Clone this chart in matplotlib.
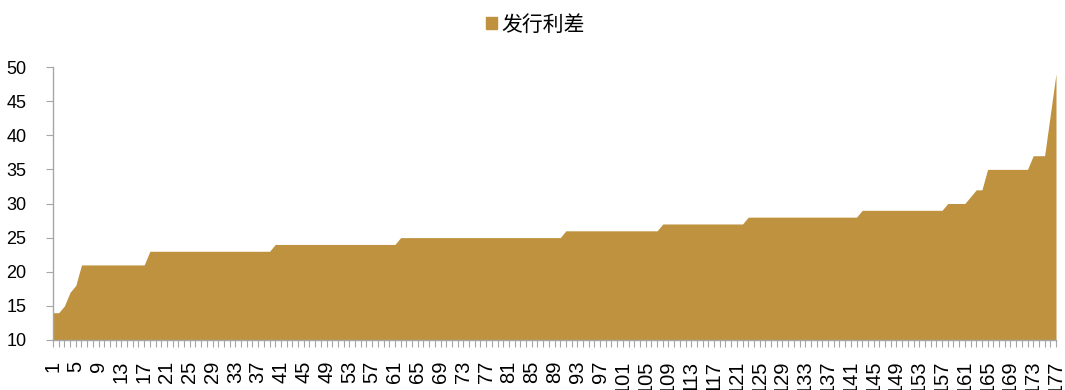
import numpy as np
import matplotlib.pyplot as plt
from matplotlib.patches import Patch

plt.rcParams['font.family'] = ['Liberation Sans', 'Noto Sans CJK SC', 'DejaVu Sans']

# issue spread by deal, sorted ascending
spread = [
    14, 14, 15, 17, 18,
    21, 21, 21, 21, 21, 21, 21, 21, 21, 21, 21, 21,
    23, 23, 23, 23, 23, 23, 23, 23, 23, 23, 23, 23, 23, 23, 23, 23, 23, 23, 23, 23, 23, 23,
    24, 24, 24, 24, 24, 24, 24, 24, 24, 24, 24, 24, 24, 24, 24, 24, 24, 24, 24, 24, 24, 24,
    25, 25, 25, 25, 25, 25, 25, 25, 25, 25, 25, 25, 25, 25, 25, 25, 25, 25, 25, 25, 25, 25,
    25, 25, 25, 25, 25, 25, 25,
    26, 26, 26, 26, 26, 26, 26, 26, 26, 26, 26, 26, 26, 26, 26, 26, 26,
    27, 27, 27, 27, 27, 27, 27, 27, 27, 27, 27, 27, 27, 27, 27,
    28, 28, 28, 28, 28, 28, 28, 28, 28, 28, 28, 28, 28, 28, 28, 28, 28, 28, 28, 28,
    29, 29, 29, 29, 29, 29, 29, 29, 29, 29, 29, 29, 29, 29, 29,
    30, 30, 30, 30, 31, 32, 32,
    35, 35, 35, 35, 35, 35, 35, 35,
    37, 37, 37, 43, 49,
]
idx = list(range(1, len(spread) + 1))
tick_labels = [str(i) if (i - 1) % 4 == 0 else '' for i in idx]
series_name = '发行利差'

gold = '#BE923E'
grey = '#A6A6A6'

fig = plt.figure(figsize=(10.65, 3.9), dpi=100)
ax = fig.add_axes([53 / 1065, 50 / 390, 1003 / 1065, 273 / 390])

ax.fill_between(idx, 10, spread, color=gold, linewidth=0)

ax.set_xlim(1, len(spread))
ax.set_ylim(10, 50)
ax.set_yticks(range(10, 51, 5))
ax.set_xticks(idx)
ax.set_xticklabels(tick_labels, rotation=90, fontsize=14.5)

for s in ['top', 'right']:
    ax.spines[s].set_visible(False)
for s in ['left', 'bottom']:
    ax.spines[s].set_color(grey)
    ax.spines[s].set_linewidth(1)

ax.tick_params(axis='y', length=5, color=grey, labelsize=13, pad=14)
ax.tick_params(axis='x', length=5, color=grey, width=0.8, pad=10)

fig.legend(handles=[Patch(color=gold)], labels=[series_name],
           loc='upper center', bbox_to_anchor=(0.503, 1.0), frameon=False,
           fontsize=15, handlelength=0.5, handleheight=0.5, handletextpad=0.25,
           borderaxespad=0.3)

fig.savefig('out.png', dpi=100)
